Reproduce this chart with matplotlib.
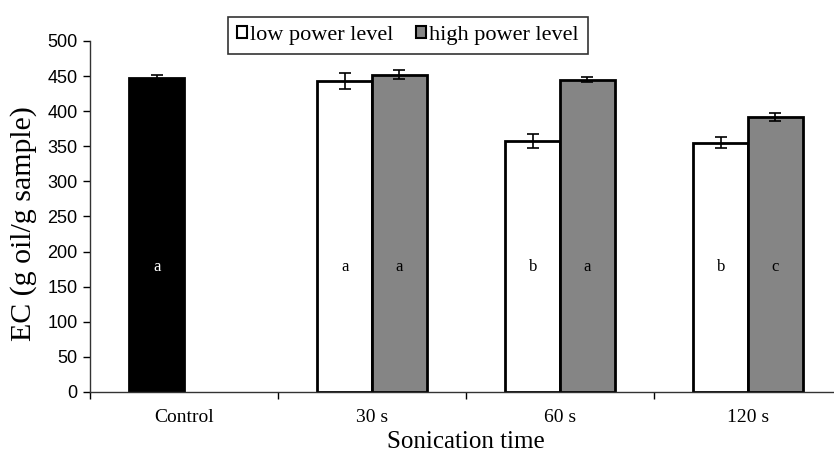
import matplotlib
matplotlib.use("Agg")
import matplotlib.pyplot as plt
import numpy as np
from matplotlib.patches import Patch

categories = ["Control", "30 s", "60 s", "120 s"]
low_vals = [448, 443, 358, 355]
low_err = [3, 11, 10, 8]
high_vals = [np.nan, 452, 445, 392]
high_err = [np.nan, 6, 4, 6]
low_letters = ["a", "a", "b", "b"]
high_letters = ["", "a", "a", "c"]
series_names = ["low power level", "high power level"]
yticks = [0, 50, 100, 150, 200, 250, 300, 350, 400, 450, 500]

serif = ["Liberation Serif", "DejaVu Serif"]
sans = ["Liberation Sans", "DejaVu Sans"]

W, H = 834, 455
fig = plt.figure(figsize=(W / 100, H / 100), dpi=100)
ax = fig.add_axes([90 / W, 63 / H, 752 / W, 351 / H])

x = np.arange(len(categories))
bw = 0.29
low_colors = ["black"] + ["white"] * (len(categories) - 1)

ax.bar(x - bw / 2, low_vals, width=bw, color=low_colors, edgecolor="black",
       linewidth=2, zorder=2)
ax.bar(x + bw / 2, high_vals, width=bw, color="#858585", edgecolor="black",
       linewidth=2, zorder=2)
ax.errorbar(x - bw / 2, low_vals, yerr=low_err, fmt="none", ecolor="black",
            elinewidth=1.2, capsize=4, capthick=1.2, zorder=3)
ax.errorbar(x + bw / 2, high_vals, yerr=high_err, fmt="none", ecolor="black",
            elinewidth=1.2, capsize=4, capthick=1.2, zorder=3)

letter_y = 178
for i, (lo, hi) in enumerate(zip(low_letters, high_letters)):
    ax.text(x[i] - bw / 2, letter_y, lo, ha="center", va="center",
            fontsize=12, family=serif, color="white" if i == 0 else "black", zorder=4)
    if hi:
        ax.text(x[i] + bw / 2, letter_y, hi, ha="center", va="center",
                fontsize=12, family=serif, color="black", zorder=4)

ax.set_xlim(-0.5, len(categories) - 0.5)
ax.set_ylim(0, 500)
ax.set_yticks(yticks)
ax.set_yticklabels([str(v) for v in yticks], family=sans, fontsize=13)
ax.set_xticks(x)
ax.set_xticklabels(categories, family=serif, fontsize=14)
ax.set_xticks(np.arange(len(categories) + 1) - 0.5, minor=True)
ax.tick_params(axis="x", which="major", length=0, pad=12)
ax.tick_params(axis="x", which="minor", length=5, width=1, direction="out")
ax.tick_params(axis="y", length=5, width=1, direction="out", pad=4)

for s in ["top", "right"]:
    ax.spines[s].set_visible(False)
for s in ["left", "bottom"]:
    ax.spines[s].set_linewidth(1)
    ax.spines[s].set_color("#333333")

ax.set_xlabel("Sonication time", family=serif, fontsize=18, labelpad=4)
ax.set_ylabel("EC (g oil/g sample)", family=serif, fontsize=21.5)
ax.yaxis.set_label_coords(-0.0705, (392 - 224) / 351)

handles = [Patch(facecolor="white", edgecolor="black", linewidth=1.5),
           Patch(facecolor="#858585", edgecolor="black", linewidth=1.5)]
leg = fig.legend(handles, series_names, loc="upper left",
                 bbox_to_anchor=(228 / W, 1 - 17 / H), ncol=2,
                 prop={"family": serif, "size": 16}, frameon=True,
                 fancybox=False, edgecolor="black", handlelength=0.45,
                 handleheight=0.45, handletextpad=0.15, columnspacing=1.0,
                 borderpad=0.4, borderaxespad=0)
leg.get_frame().set_linewidth(1.2)

fig.savefig("out.png", dpi=100)
